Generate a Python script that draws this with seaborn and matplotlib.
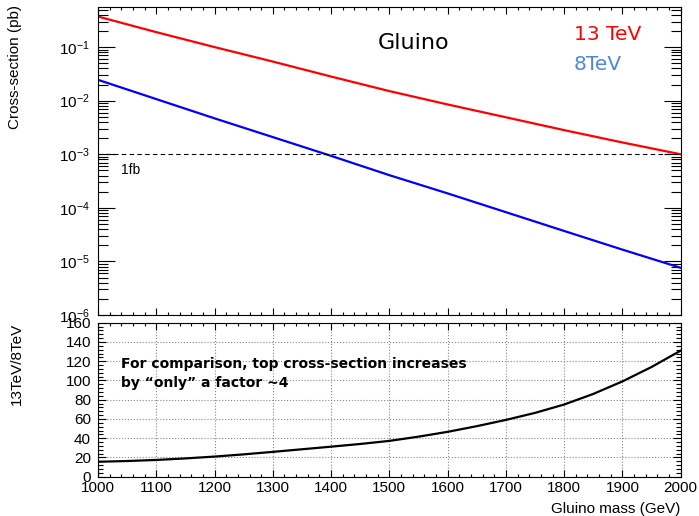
import numpy as np
import pandas as pd
import matplotlib
matplotlib.use("Agg")
import matplotlib.pyplot as plt
import matplotlib.ticker as mticker
import seaborn as sns

# cross-sections (pb), every 100 GeV
mass = [1000, 1100, 1200, 1300, 1400, 1500, 1600, 1700, 1800, 1900, 2000]
xsec_13tev = [0.372, 0.19, 0.10, 0.0537, 0.0282, 0.0151, 0.0085, 0.0049, 0.00282, 0.00166, 0.0010]
xsec_8tev = [0.0245, 0.0107, 0.00468, 0.00209, 0.000933, 0.000407, 0.000186, 8.3e-5, 3.7e-5, 1.66e-5, 7.6e-6]

# ratio 13TeV/8TeV, every 50 GeV
ratio_mass = [1000, 1050, 1100, 1150, 1200, 1250, 1300, 1350, 1400, 1450, 1500,
              1550, 1600, 1650, 1700, 1750, 1800, 1850, 1900, 1950, 2000]
ratio = [15.5, 16.3, 17.4, 19.0, 20.9, 23.2, 25.8, 28.5, 31.2, 34.0, 37.2,
         41.6, 46.6, 52.5, 59.0, 66.3, 75.0, 86.0, 99.0, 114.0, 131.0]

df = pd.DataFrame({"mass": mass, "xs13": xsec_13tev, "xs8": xsec_8tev})
df_ratio = pd.DataFrame({"mass": ratio_mass, "ratio": ratio})

sns.set_theme(style="ticks")
plt.rcParams["font.family"] = ["Liberation Sans", "DejaVu Sans"]
plt.rcParams["mathtext.fontset"] = "custom"
plt.rcParams["mathtext.rm"] = "Liberation Sans"
plt.rcParams["mathtext.default"] = "regular"
for key in ["text.color", "axes.labelcolor", "xtick.color", "ytick.color",
            "xtick.labelcolor", "ytick.labelcolor"]:
    plt.rcParams[key] = "black"

W, H = 699, 516
fig = plt.figure(figsize=(W / 100, H / 100), dpi=100)

def box(l, t, r, b):
    return [l / W, 1 - b / H, (r - l) / W, (b - t) / H]

ax_top = fig.add_axes(box(98, 7, 680.7, 315))
ax_bot = fig.add_axes(box(98, 322.7, 680.7, 476.7))

# top panel: cross-sections
sns.lineplot(x="mass", y="xs13", data=df, ax=ax_top, color="#ff0000", linewidth=1.6)
sns.lineplot(x="mass", y="xs8", data=df, ax=ax_top, color="#0000ff", linewidth=1.6)
ax_top.axhline(1e-3, color="black", linestyle=(0, (4, 3)), linewidth=0.8)
ax_top.set_yscale("log")
ax_top.set_xlim(1000, 2000)
ax_top.set_ylim(1e-6, 0.56)
ax_top.set_xlabel("")
ax_top.set_ylabel("")
ax_top.xaxis.set_major_locator(mticker.MultipleLocator(100))
ax_top.xaxis.set_minor_locator(mticker.MultipleLocator(20))
ax_top.yaxis.set_major_locator(mticker.LogLocator(base=10, numticks=20))
ax_top.yaxis.set_minor_locator(mticker.LogLocator(base=10, subs=np.arange(2, 10), numticks=20))
ax_top.yaxis.set_minor_formatter(mticker.NullFormatter())
ax_top.tick_params(axis="x", which="both", direction="in", top=True, bottom=True, labelbottom=False)
ax_top.tick_params(axis="x", which="major", length=5, width=0.8)
ax_top.tick_params(axis="x", which="minor", length=2.5, width=0.8)
ax_top.tick_params(axis="y", which="both", direction="in", left=True, right=True, labelsize=11, pad=6)
ax_top.tick_params(axis="y", which="major", length=12, width=0.8)
ax_top.tick_params(axis="y", which="minor", length=7, width=0.8)

ax_top.text(1040, 7e-4, "1fb", fontsize=10, va="top", ha="left")

# bottom panel: ratio
sns.lineplot(x="mass", y="ratio", data=df_ratio, ax=ax_bot, color="black", linewidth=1.6)
ax_bot.set_xlim(1000, 2000)
ax_bot.set_ylim(0, 160)
ax_bot.set_xlabel("")
ax_bot.set_ylabel("")
ax_bot.xaxis.set_major_locator(mticker.MultipleLocator(100))
ax_bot.xaxis.set_minor_locator(mticker.MultipleLocator(20))
ax_bot.yaxis.set_major_locator(mticker.MultipleLocator(20))
ax_bot.yaxis.set_minor_locator(mticker.MultipleLocator(4))
ax_bot.grid(True, which="major", color="#888888", linestyle=":", linewidth=0.8)
ax_bot.tick_params(axis="both", which="both", direction="in", top=True, right=True, labelsize=11)
ax_bot.tick_params(axis="x", which="major", length=5, width=0.8, pad=3)
ax_bot.tick_params(axis="x", which="minor", length=2.5, width=0.8)
ax_bot.tick_params(axis="y", which="major", length=6, width=0.8, pad=5)
ax_bot.tick_params(axis="y", which="minor", length=3.5, width=0.8)

ax_bot.text(1040, 107.5, "For comparison, top cross-section increases\nby \u201conly\u201d a factor ~4",
            fontsize=10, family="DejaVu Sans", fontweight="bold", ha="left", va="center",
            linespacing=1.45)

for ax in (ax_top, ax_bot):
    for sp in ax.spines.values():
        sp.set_visible(True)
        sp.set_color("black")
        sp.set_linewidth(0.8)

# labels and titles placed in pixel positions of the reference
fig.text(414 / W, 1 - 43 / H, "Gluino", fontsize=16, family="DejaVu Sans", ha="center", va="center")
fig.text(574 / W, 1 - 34 / H, "13 TeV", fontsize=14.5, family="DejaVu Sans", color="#ff0000",
         ha="left", va="center")
fig.text(574 / W, 1 - 65 / H, "8TeV", fontsize=14.5, family="DejaVu Sans", color="#4f87d8",
         ha="left", va="center")
fig.text(15 / W, 1 - 5 / H, "Cross-section (pb)", rotation=90, ha="center", va="top", fontsize=11)
fig.text(17 / W, 1 - 323 / H, "13TeV/8TeV", rotation=90, ha="center", va="top", fontsize=11)
fig.text(680 / W, 1 - 509 / H, "Gluino mass (GeV)", ha="right", va="center", fontsize=11)

fig.savefig("out.png", dpi=100)
